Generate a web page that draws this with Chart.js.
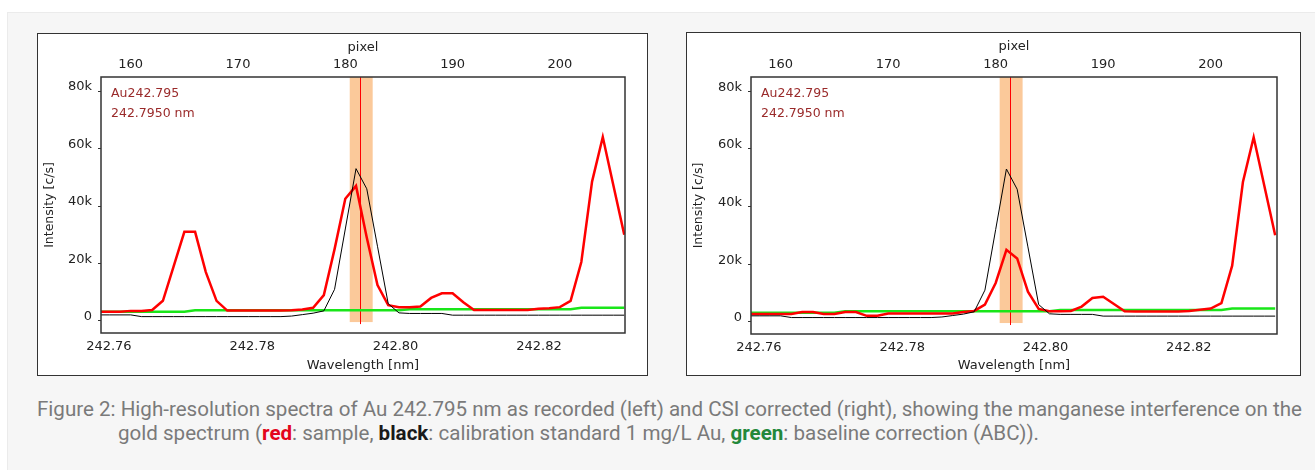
<!DOCTYPE html>
<html>
<head>
<meta charset="utf-8">
<script src="https://cdn.jsdelivr.net/npm/chart.js@4.4.1/dist/chart.umd.min.js"></script>
<style>
  body { margin: 0; width: 1315px; height: 470px; overflow: hidden; position: relative; background: #fff; }
  #panel { position: absolute; left: 7px; top: 12px; right: 0; bottom: 0; background: #f6f6f6; border-top: 1px solid #ebebeb; border-left: 1px solid #ebebeb; }
  .box { position: absolute; box-sizing: border-box; border: 1px solid #333; background: #fff; }
  .box canvas { display: block; }
  .cap { position: absolute; font-family: Roboto, sans-serif; font-size: 20px; line-height: 24px; color: #7a7a7a; white-space: nowrap; transform-origin: 0 50%; }
  .cap b { font-weight: bold; }
  .r { color: #e3061c; }
  .k { color: #1a1a1a; }
  .g { color: #23883a; }
</style>
</head>
<body>
<div id="panel"></div>
<div class="box" style="left:37px; top:33px; width:611px; height:343px;">
  <canvas id="chartLeft" width="609" height="341"></canvas>
</div>
<div class="box" style="left:686px; top:32px; width:615px; height:344px;">
  <canvas id="chartRight" width="613" height="342"></canvas>
</div>
<div class="cap" id="cap1" style="left:37px; top:397px;">Figure 2: High-resolution spectra of Au 242.795 nm as recorded (left) and CSI corrected (right), showing the manganese interference on the</div>
<div class="cap" id="cap2" style="left:118px; top:421px;">gold spectrum (<b class="r">red</b>: sample, <b class="k">black</b>: calibration standard 1 mg/L Au, <b class="g">green</b>: baseline correction (ABC)).</div>

<script>
// detector pixels (one reading per pixel)
const pixels = [157, 158, 159, 160, 161, 162, 163, 164, 165, 166,
                167, 168, 169, 170, 171, 172, 173, 174, 175, 176,
                177, 178, 179, 180, 181, 182, 183, 184, 185, 186,
                187, 188, 189, 190, 191, 192, 193, 194, 195, 196,
                197, 198, 199, 200, 201, 202, 203, 204, 205, 206];

// sample as recorded (left)
const sampleRecorded = [3200, 3200, 3200, 3500, 3500, 3800, 7000, 19000, 31000, 31000,
                        17000, 7000, 3600, 3600, 3600, 3600, 3600, 3600, 3700, 4000,
                        4600, 9000, 25000, 42500, 47000, 29000, 12500, 5500, 4800, 4800,
                        5000, 8000, 9600, 9600, 6500, 3800, 3800, 3800, 3800, 3800,
                        3800, 4200, 4400, 4800, 7000, 20500, 48500, 64000, 47000, 30000];

// sample after CSI correction (right)
const sampleCorrected = [2700, 2700, 2700, 2700, 2700, 3400, 3400, 2700, 2700, 3400,
                         3400, 2100, 2100, 2900, 2900, 2900, 2900, 2900, 2900, 2900,
                         3400, 3800, 6000, 13500, 25000, 22000, 10500, 4500, 3700, 3700,
                         3800, 5300, 8300, 8700, 6200, 3700, 3600, 3600, 3600, 3600,
                         3600, 3800, 4200, 4600, 6500, 19500, 48500, 64000, 47000, 30000];

// calibration standard 1 mg/L Au
const standard = [2100, 2100, 2100, 2100, 1500, 1500, 1500, 1500, 1500, 1500,
                  1500, 1500, 1500, 1500, 1500, 1500, 1500, 1500, 1700, 2200,
                  2700, 3500, 11000, 32000, 53000, 46000, 26000, 6000, 2800, 2600,
                  2600, 2600, 2600, 2000, 2000, 2000, 2000, 2000, 2000, 2000,
                  2000, 2000, 2000, 2000, 2000, 2000, 2000, 2000, 2000, 2000];

// baseline correction (ABC)
const baseline = [3200, 3200, 3200, 3200, 3200, 3200, 3200, 3200, 3200, 3700,
                  3700, 3700, 3700, 3700, 3700, 3700, 3700, 3700, 3700, 3700,
                  3700, 3700, 3700, 3700, 3700, 3700, 3700, 3700, 3700, 4100,
                  4100, 4100, 4100, 4100, 4100, 4100, 4100, 4100, 4100, 4100,
                  4100, 4100, 4100, 4100, 4100, 4600, 4600, 4600, 4600, 4600];

const yTicks = [0, 20000, 40000, 60000, 80000];
const yRange = [-4200, 84900];
const pixelTicks = [160, 170, 180, 190, 200];
const wavelengthTicks = [242.76, 242.78, 242.80, 242.82];
const pixelRangeLeft = [157.23, 206.07];
const pixelRangeRight = [157.24, 206.17];
const wavelengthRangeLeft = [242.7589, 242.8320];
const wavelengthRangeRight = [242.7589, 242.8323];

// integration window and line position
const lineLabel = ['Au242.795', '242.7950 nm'];
const lineWavelength = 242.795;
const windowRange = [242.7936, 242.7968];
const windowBottom = -400;

const axisFont = { family: 'DejaVu Sans', size: 13 };
const axisColor = '#222';

// orange window, red marker, plot frame and line label
const windowPlugin = {
    id: 'windowPlugin',
    beforeDatasetsDraw(chart) {
        const { ctx, chartArea, scales } = chart;
        const x0 = scales.x.getPixelForValue(windowRange[0]);
        const x1 = scales.x.getPixelForValue(windowRange[1]);
        const yb = scales.y.getPixelForValue(windowBottom);
        ctx.save();
        ctx.fillStyle = '#fbc99a';
        ctx.fillRect(x0, chartArea.top, x1 - x0, yb - chartArea.top);
        const xm = Math.round(scales.x.getPixelForValue(lineWavelength)) + 0.5;
        ctx.strokeStyle = '#ff0000';
        ctx.lineWidth = 1;
        ctx.beginPath();
        ctx.moveTo(xm, chartArea.top);
        ctx.lineTo(xm, yb + 2);
        ctx.stroke();
        ctx.restore();
    },
    afterDraw(chart) {
        const { ctx, chartArea } = chart;
        ctx.save();
        ctx.strokeStyle = '#333';
        ctx.lineWidth = 1.5;
        ctx.strokeRect(chartArea.left, chartArea.top, chartArea.right - chartArea.left, chartArea.bottom - chartArea.top);
        ctx.fillStyle = '#9a2a2a';
        ctx.font = '12.5px "DejaVu Sans"';
        ctx.textBaseline = 'middle';
        ctx.fillText(lineLabel[0], chartArea.left + 10, chartArea.top + 17);
        ctx.fillText(lineLabel[1], chartArea.left + 10, chartArea.top + 37);
        ctx.restore();
    }
};

function series(values) {
    return pixels.map((p, i) => ({ x: p, y: values[i] }));
}

function makeChart(id, sample, pixelRange, wavelengthRange, g) {
    const ctx = document.getElementById(id).getContext('2d');
    return new Chart(ctx, {
        type: 'line',
        data: {
            datasets: [
                { data: series(standard), borderColor: '#000', borderWidth: 1, order: 0 },
                { data: series(sample), borderColor: '#ff0000', borderWidth: 2.5, order: 1 },
                { data: series(baseline), borderColor: '#19e619', borderWidth: 2.5, order: 2 }
            ]
        },
        options: {
            responsive: false,
            animation: false,
            devicePixelRatio: 1,
            parsing: false,
            layout: { padding: { left: 0, top: 0, bottom: 0, right: g.rightPad } },
            elements: { point: { radius: 0 }, line: { tension: 0, fill: false } },
            datasets: { line: { xAxisID: 'xp', yAxisID: 'y' } },
            plugins: { legend: { display: false }, tooltip: { enabled: false } },
            scales: {
                xp: {
                    type: 'linear', position: 'top',
                    min: pixelRange[0], max: pixelRange[1],
                    afterBuildTicks: a => { a.ticks = pixelTicks.map(v => ({ value: v })); },
                    afterFit: a => { a.height = g.topH; },
                    ticks: { font: axisFont, color: axisColor, padding: 5, maxRotation: 0, autoSkip: false },
                    grid: { display: false, drawTicks: false },
                    border: { display: false },
                    title: { display: true, text: 'pixel', font: axisFont, color: axisColor, padding: { top: 6, bottom: 0 } }
                },
                x: {
                    type: 'linear', position: 'bottom',
                    min: wavelengthRange[0], max: wavelengthRange[1],
                    afterBuildTicks: a => { a.ticks = wavelengthTicks.map(v => ({ value: v })); },
                    afterFit: a => { a.height = g.bottomH; },
                    ticks: { font: axisFont, color: axisColor, padding: 6, maxRotation: 0, autoSkip: false,
                             callback: v => v.toFixed(2) },
                    grid: { display: false, drawTicks: false },
                    border: { display: false },
                    title: { display: true, text: 'Wavelength [nm]', font: axisFont, color: axisColor, padding: { top: 0, bottom: 1.5 } }
                },
                y: {
                    min: yRange[0], max: yRange[1],
                    afterBuildTicks: a => { a.ticks = yTicks.map(v => ({ value: v })); },
                    afterFit: a => { a.width = g.yWidth; },
                    ticks: { font: axisFont, color: axisColor, padding: 6, labelOffset: -4,
                             callback: v => v === 0 ? '0' : (v / 1000) + 'k' },
                    grid: { display: true, drawOnChartArea: false, drawTicks: true, tickLength: 3, color: '#333' },
                    border: { display: false },
                    title: { display: true, text: 'Intensity [c/s]', font: { family: 'DejaVu Sans', size: 12.5 }, color: axisColor, padding: { top: 4, bottom: 0 } }
                }
            }
        },
        plugins: [windowPlugin]
    });
}

makeChart('chartLeft', sampleRecorded, pixelRangeLeft, wavelengthRangeLeft,
          { yWidth: 63, topH: 43, bottomH: 42, rightPad: 22 });
makeChart('chartRight', sampleCorrected, pixelRangeRight, wavelengthRangeRight,
          { yWidth: 64, topH: 44, bottomH: 41, rightPad: 23 });

// squeeze caption lines to the width they take in the figure
const cap1 = document.getElementById('cap1');
const cap2 = document.getElementById('cap2');
const s = 1265 / cap1.getBoundingClientRect().width;
cap1.style.transform = 'scaleX(' + s + ')';
cap2.style.transform = 'scaleX(' + s + ')';
</script>
</body>
</html>
